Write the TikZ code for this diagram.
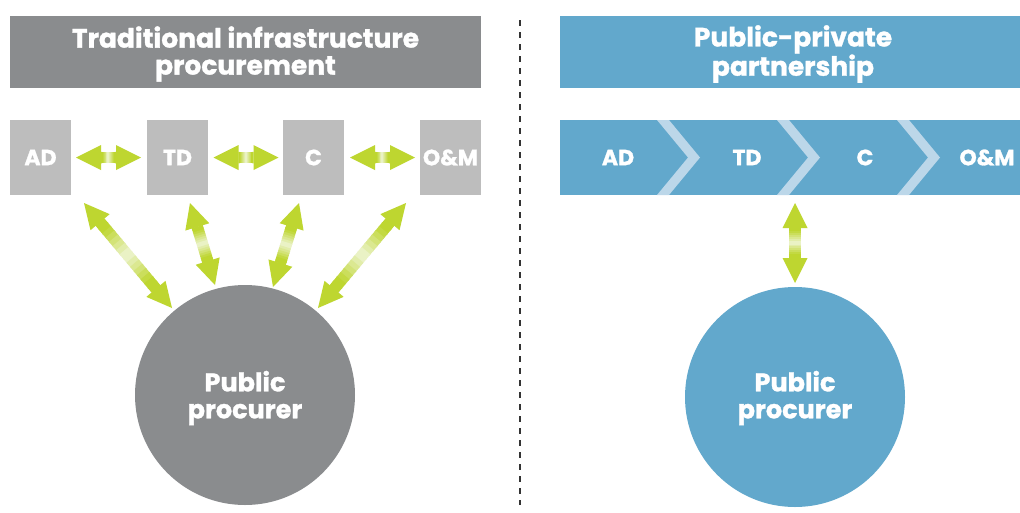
\documentclass[tikz,border=0pt]{standalone}
\usepackage{fontspec}
\setmainfont{Poppins}[BoldFeatures={FakeBold=1.2}]
\usetikzlibrary{calc}
\definecolor{hdrgray}{HTML}{8A8C8E}
\definecolor{boxgray}{HTML}{BDBDBD}
\definecolor{pblue}{HTML}{62A8CC}
\definecolor{lblue}{HTML}{BCD7E9}
\definecolor{gr}{HTML}{BED630}
\definecolor{pale}{HTML}{EEF4D2}
\definecolor{dline}{HTML}{333333}
\tikzset{
  hdr/.style={inner sep=0pt, minimum width=471pt, minimum height=72pt},
  hdrtext/.style={inner sep=0pt, text=white, align=center,
    font=\fontsize{26.5}{27}\selectfont\bfseries},
  phase/.style={fill=boxgray, inner sep=0pt, minimum width=61pt, minimum height=75pt, text=white,
    font=\fontsize{22}{24}\selectfont\bfseries},
  plabel/.style={text=white, inner sep=0pt, font=\fontsize{22}{24}\selectfont\bfseries},
  chev/.style={fill=lblue},
  circ/.style={circle, inner sep=0pt, minimum size=220pt},
  circtext/.style={inner sep=0pt, text=white, align=center,
    font=\fontsize{25.5}{27}\selectfont\bfseries},
}
\newcommand{\garrow}[2]{%
  \coordinate (H1) at ($(#1)!25pt!(#2)$);
  \coordinate (H2) at ($(#2)!25pt!(#1)$);
  \foreach \i in {0,...,15}{%
    \pgfmathsetmacro\ta{\i/16-0.01}
    \pgfmathsetmacro\tb{(\i+1)/16+0.01}
    \pgfmathtruncatemacro\mx{min(100,abs(2*(\i+0.5)/16-1)*130)}
    \draw[line width=11.5pt, color=gr!\mx!pale] ($(H1)!\ta!(H2)$) -- ($(H1)!\tb!(H2)$);
  }
  \fill[gr] (#1) -- ($(H1)!12.5pt!90:(#2)$) -- ($(H1)!12.5pt!-90:(#2)$) -- cycle;
  \fill[gr] (#2) -- ($(H2)!12.5pt!90:(#1)$) -- ($(H2)!12.5pt!-90:(#1)$) -- cycle;
}
\begin{document}
\begin{tikzpicture}[x=1pt,y=-1pt]
\useasboundingbox[fill=white] (0,0) rectangle (1020,512);
% headers
\node[hdr, fill=hdrgray] (h1) at (245.5,52) {};
\node[hdr, fill=pblue, minimum width=460pt] (h2) at (790,52) {};
\node[hdrtext] (h1t) at (245.5,54) {Traditional infrastructure\\procurement};
\node[hdrtext] (h2t) at (793,54) {Public-private\\partnership};
% divider
\coordinate (dtop) at (520,20);
\coordinate (dbot) at (520,505);
\draw[dline, line width=1.8pt, dash pattern=on 6pt off 6pt] (dtop) -- (dbot);
% left phases
\node[phase] (ad) at (40.5,157.5) {AD};
\node[phase] (td) at (177.5,157.5) {TD};
\node[phase] (c) at (313.5,157.5) {C};
\node[phase] (om) at (450.5,157.5) {O\&M};
% right bar
\node[fill=pblue, inner sep=0pt, minimum width=460pt, minimum height=75pt] (bar) at (790,157.5) {};
\foreach \x in {657,777,897}{
  \fill[chev] (\x,120) -- (\x+12,120) -- (\x+43,157.5) -- (\x+12,195) -- (\x,195) -- (\x+31,157.5) -- cycle;
}
\node[plabel] (pad) at (618,157.5) {AD};
\node[plabel] (ptd) at (747,157.5) {TD};
\node[plabel] (pc) at (865,157.5) {C};
\node[plabel] (pom) at (987,157.5) {O\&M};
% circles
\node[circ, fill=hdrgray] (pp1) at (245,395) {};
\node[circ, fill=pblue] (pp2) at (795,397) {};
\node[circtext] (t1) at (245,398) {Public\\procurer};
\node[circtext] (t2) at (795,398) {Public\\procurer};
% arrow end points
\coordinate (a1) at (76,157.5); \coordinate (b1) at (141,157.5);
\coordinate (a2) at (213.5,157.5); \coordinate (b2) at (278.5,157.5);
\coordinate (a3) at (350,157.5); \coordinate (b3) at (415,157.5);
\coordinate (d1a) at (84,203); \coordinate (d1b) at (172,308);
\coordinate (d2a) at (190,203); \coordinate (d2b) at (215,285);
\coordinate (d3a) at (299,203); \coordinate (d3b) at (273,287);
\coordinate (d4a) at (406,203); \coordinate (d4b) at (318,308);
\coordinate (va) at (795,203); \coordinate (vb) at (795,283);
\garrow{a1}{b1}
\garrow{a2}{b2}
\garrow{a3}{b3}
\garrow{d1a}{d1b}
\garrow{d2a}{d2b}
\garrow{d3a}{d3b}
\garrow{d4a}{d4b}
\garrow{va}{vb}
\end{tikzpicture}
\end{document}
